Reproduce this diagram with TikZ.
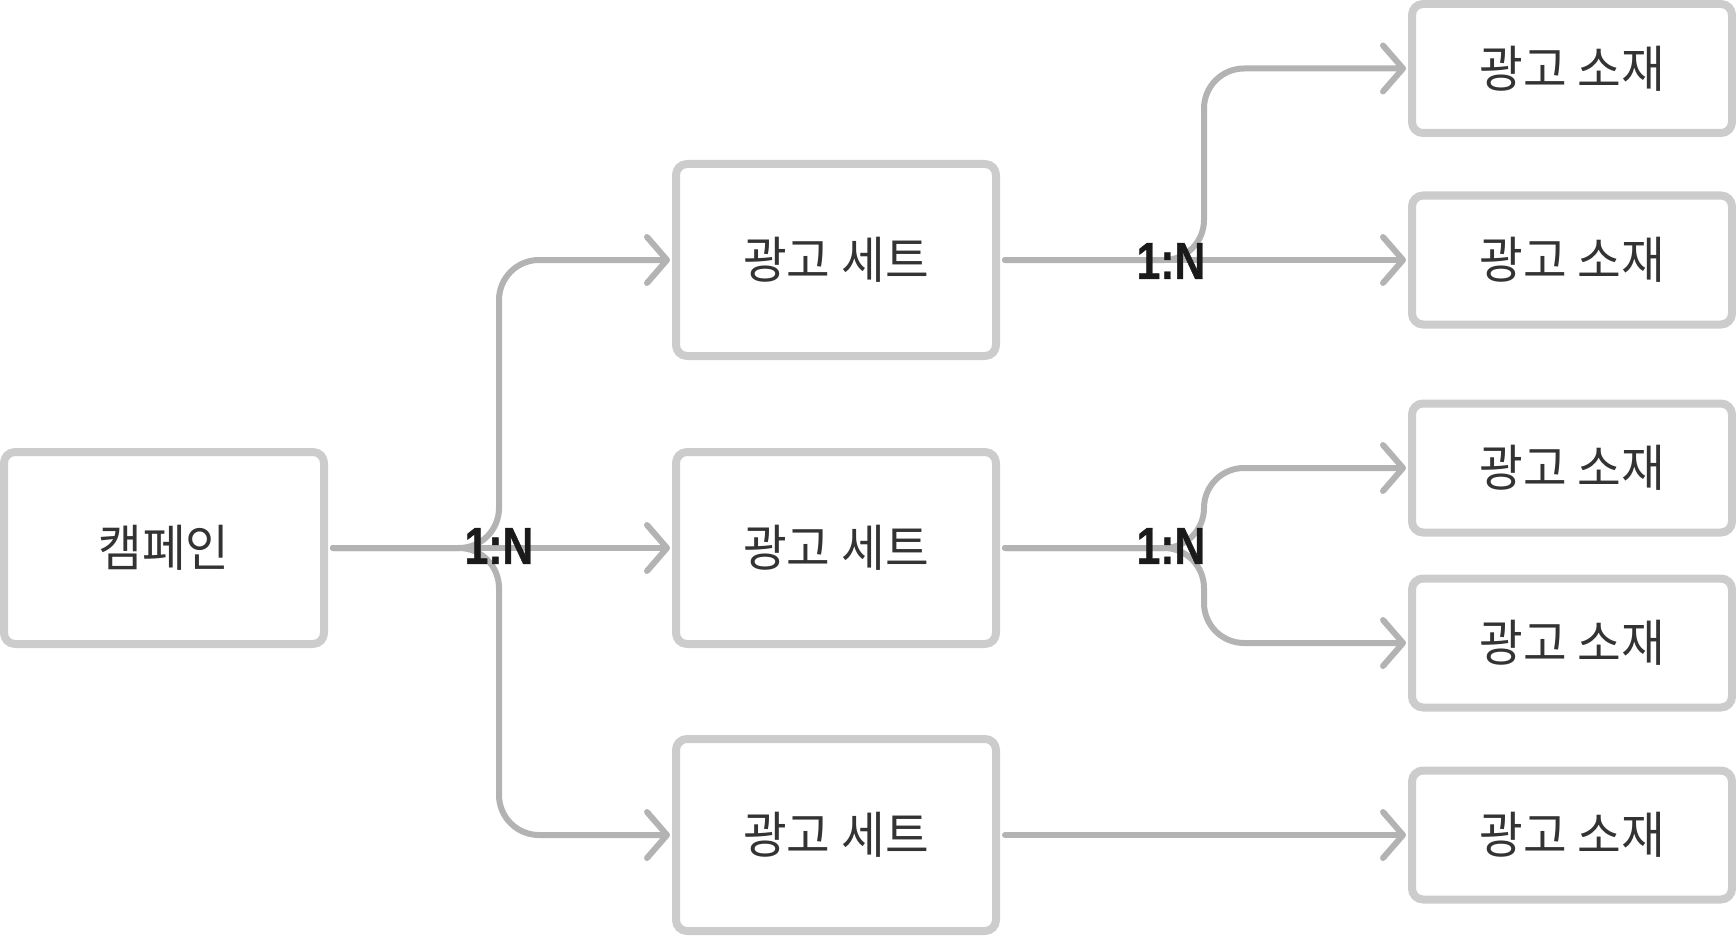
\documentclass[tikz,border=0pt]{standalone}
\usepackage{fontspec}
\usetikzlibrary{arrows.meta}
\newfontfamily\krfont[FakeStretch=0.95]{Noto Sans CJK KR}
\newfontfamily\lblfont[FakeStretch=0.82,FakeBold=0.8]{Liberation Sans}
\definecolor{boxline}{HTML}{CCCCCC}
\definecolor{connline}{HTML}{B3B3B3}
\definecolor{txt}{HTML}{333333}
\definecolor{lbl}{HTML}{1A1A1A}
\begin{document}
\begin{tikzpicture}[x=1pt,y=-1pt,
  ent/.style={draw=boxline,line width=8pt,rounded corners=11pt,fill=white,minimum width=320pt,text=txt,font=\krfont\fontsize{50}{60}\selectfont,inner sep=0pt},
  big/.style={ent,minimum height=192pt},
  small/.style={ent,minimum height=129pt},
  conn/.style={draw=connline,line width=6pt,line cap=round,line join=round,rounded corners=40pt,-{Straight Barb[length=20pt,width=46pt,round]},shorten >=2pt,shorten <=5pt},
  card/.style={text=lbl,font=\lblfont\bfseries\fontsize{52}{60}\selectfont,inner sep=0pt}]
\useasboundingbox (0,0) rectangle (1736,936);
\node[big] (camp) at (164,548) {캠페인};
\node[big] (s1) at (836,260) {광고 세트};
\node[big] (s2) at (836,548) {광고 세트};
\node[big] (s3) at (836,835) {광고 세트};
\node[small] (c1) at (1572,68.5) {광고 소재};
\node[small] (c2) at (1572,260) {광고 소재};
\node[small] (c3) at (1572,468) {광고 소재};
\node[small] (c4) at (1572,643) {광고 소재};
\node[small] (c5) at (1572,835) {광고 소재};
\coordinate (b1) at (499,548);
\coordinate (b2) at (1204,260);
\coordinate (b3) at (1204,548);
\draw[conn] (camp.east) -- (b1) |- (s1.west);
\draw[conn] (camp.east) -- (s2.west);
\draw[conn] (camp.east) -- (b1) |- (s3.west);
\draw[conn] (s1.east) -- (b2) |- (c1.west);
\draw[conn] (s1.east) -- (c2.west);
\draw[conn] (s2.east) -- (b3) |- (c3.west);
\draw[conn] (s2.east) -- (b3) |- (c4.west);
\draw[conn] (s3.east) -- (c5.west);
\node[card] (l1) at (499,546) {1:N};
\node[card] (l2) at (1171,261) {1:N};
\node[card] (l3) at (1171,546) {1:N};
\end{tikzpicture}
\end{document}
